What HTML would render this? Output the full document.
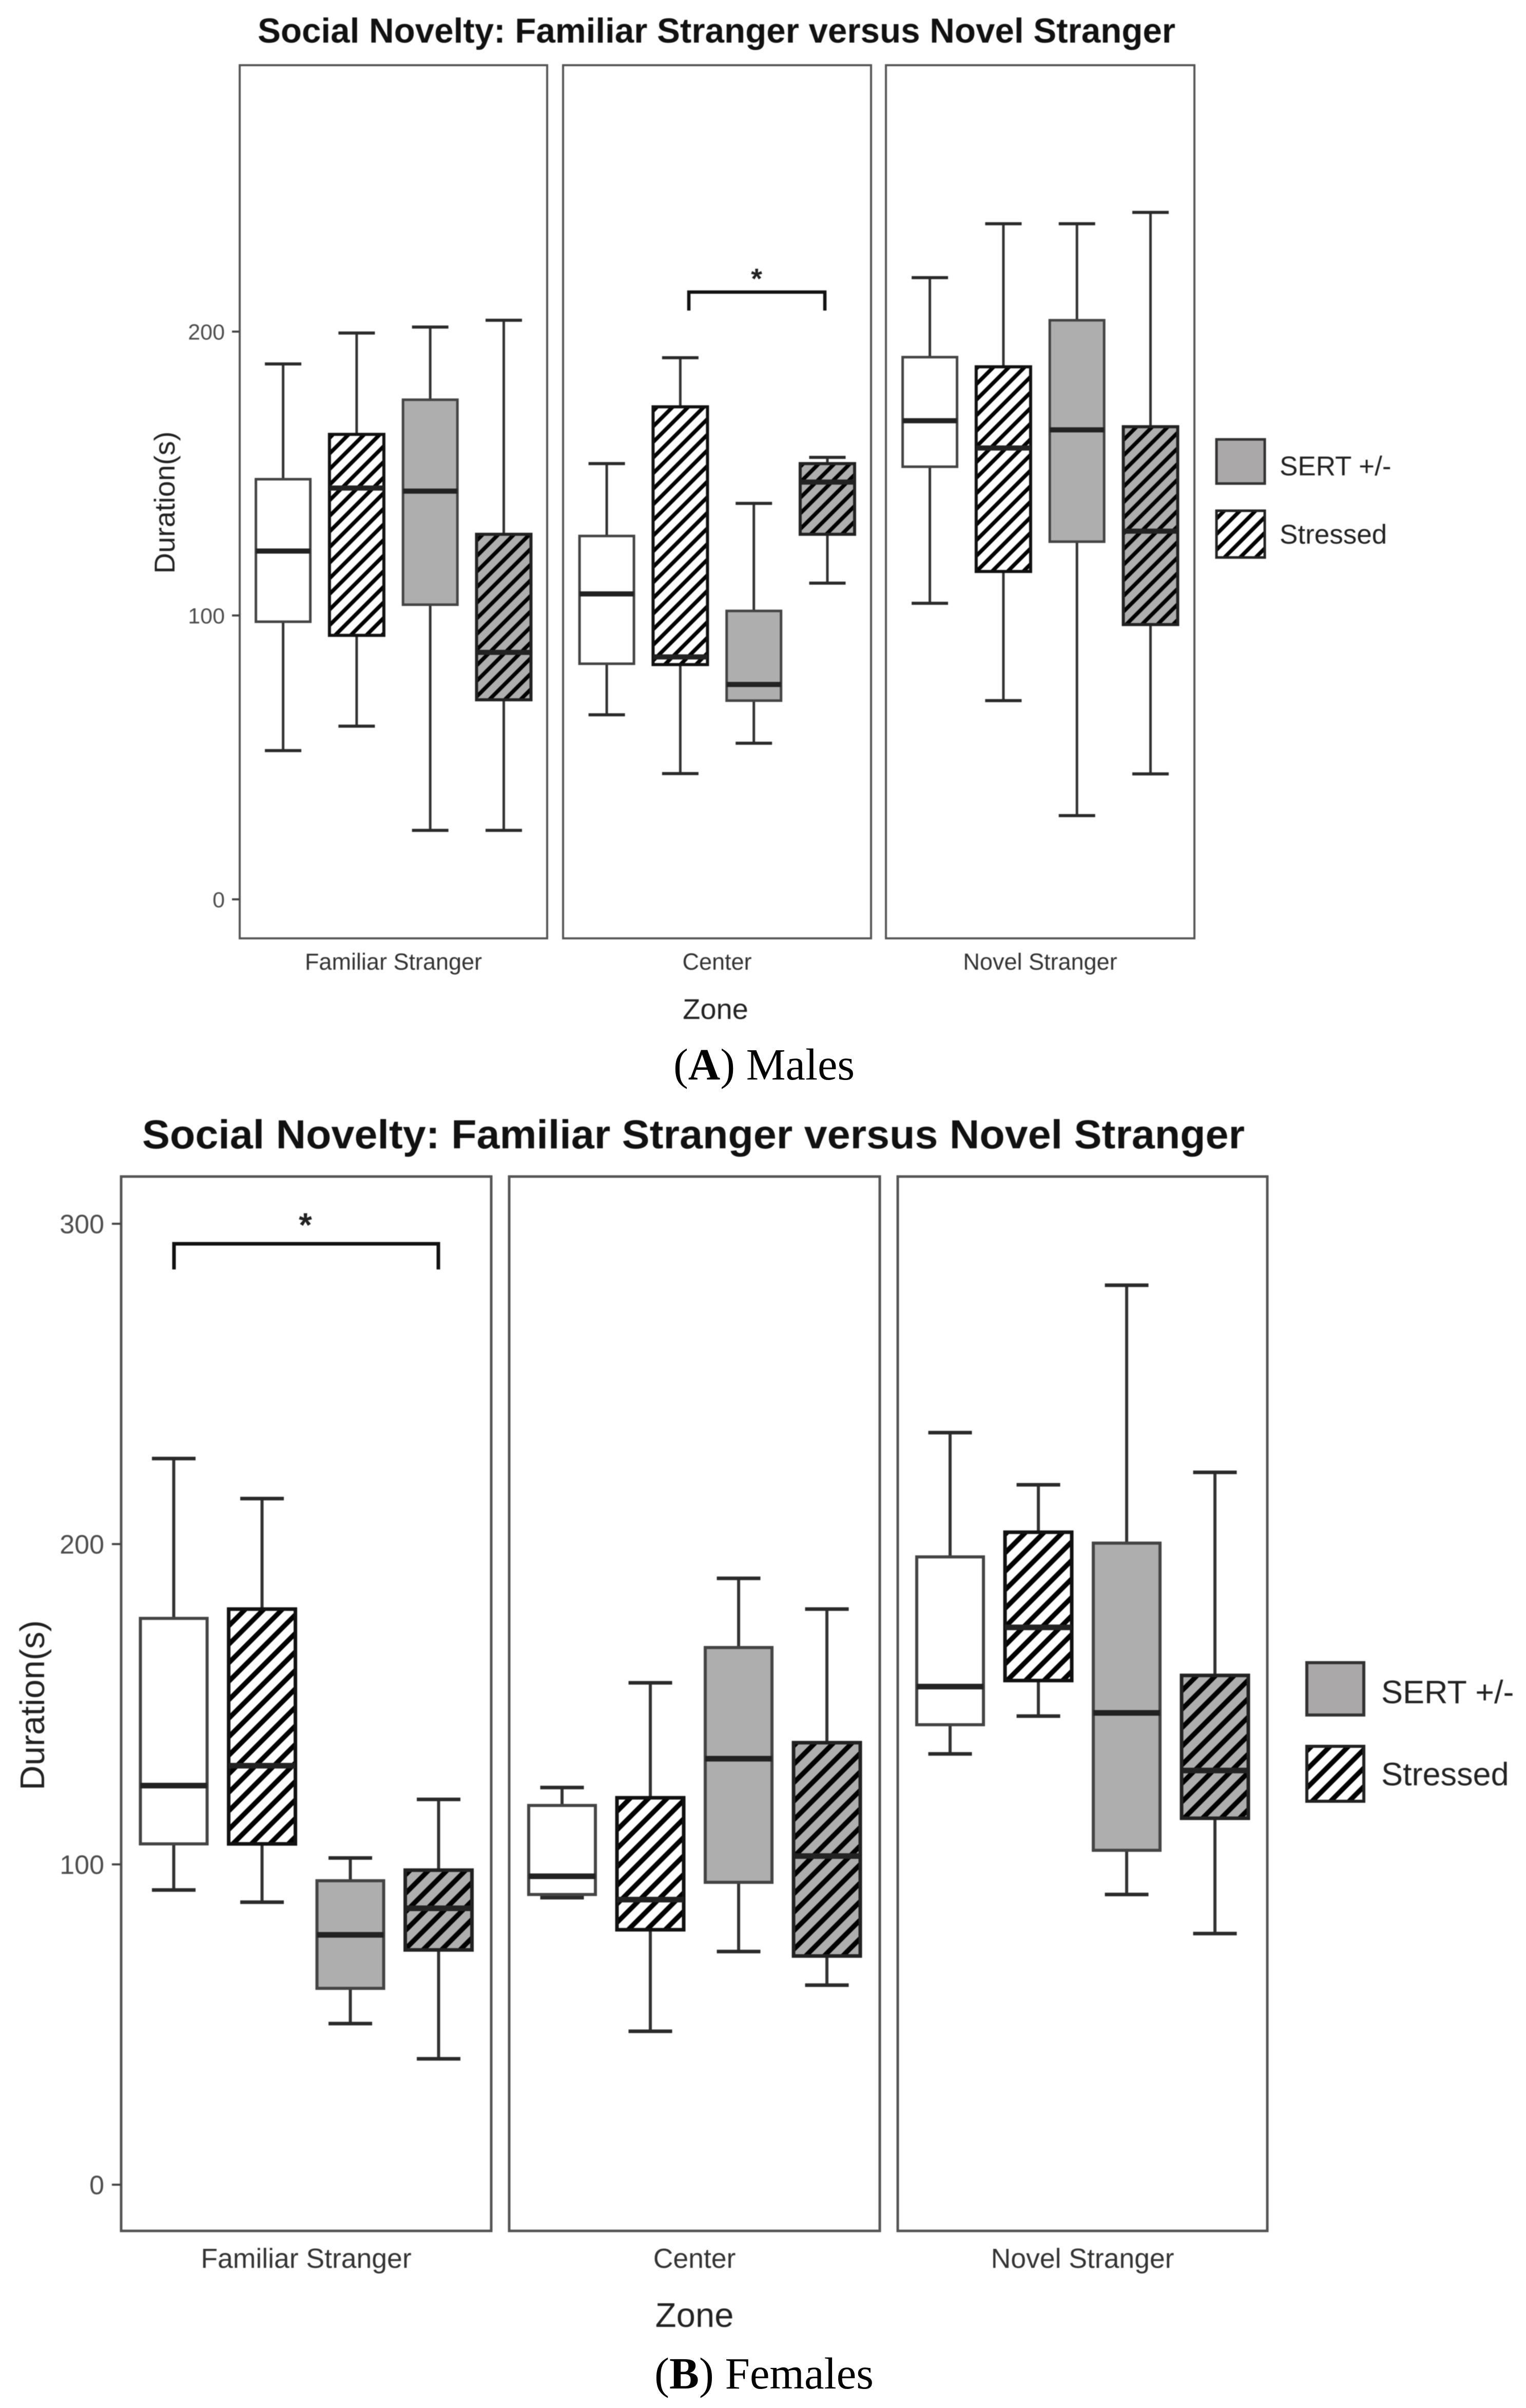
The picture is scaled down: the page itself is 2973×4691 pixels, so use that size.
<!DOCTYPE html>
<html lang="en">
<head>
<meta charset="utf-8">
<title>Social Novelty: Familiar Stranger versus Novel Stranger</title>
<style>
html,body{margin:0;padding:0;background:#fff;}
svg{display:block;}
.chart{filter:blur(0.9px);}
text{font-family:"Liberation Sans",Arial,sans-serif;}
.cap{font-family:"Liberation Serif","Times New Roman",serif;fill:#000;}
</style>
</head>
<body>
<svg id="figure" xmlns="http://www.w3.org/2000/svg" width="2973" height="4691" viewBox="0 0 2973 4691">
  <defs>
    <pattern id="hatch-white-a" patternUnits="userSpaceOnUse" width="21.5" height="21.5" patternTransform="rotate(45)"><rect width="21.5" height="21.5" fill="#fff"/><rect width="7.5" height="21.5" fill="#000"/></pattern>
    <pattern id="hatch-gray-a" patternUnits="userSpaceOnUse" width="21.5" height="21.5" patternTransform="rotate(45)"><rect width="21.5" height="21.5" fill="#aeaeae"/><rect width="7.5" height="21.5" fill="#000"/></pattern>
    <pattern id="hatch-white-b" patternUnits="userSpaceOnUse" width="25.5" height="25.5" patternTransform="rotate(45)"><rect width="25.5" height="25.5" fill="#fff"/><rect width="9.5" height="25.5" fill="#000"/></pattern>
    <pattern id="hatch-gray-b" patternUnits="userSpaceOnUse" width="25.5" height="25.5" patternTransform="rotate(45)"><rect width="25.5" height="25.5" fill="#aeaeae"/><rect width="9.5" height="25.5" fill="#000"/></pattern>
  </defs>

  <g id="chart-a" class="chart">
    <text x="502" y="83" font-size="68" font-weight="bold" fill="#111" textLength="1788" lengthAdjust="spacingAndGlyphs">Social Novelty: Familiar Stranger versus Novel Stranger</text>
    <text transform="translate(340 979) rotate(-90)" text-anchor="middle" font-size="56" fill="#222">Duration(s)</text>
    <text x="1394" y="1985" text-anchor="middle" font-size="56" fill="#222">Zone</text>
    <g>
      <rect x="2370" y="856" width="94" height="86" fill="#aba8a9" stroke="#333" stroke-width="5"/>
      <text x="2493" y="926" font-size="53" fill="#222">SERT +/-</text>
      <rect x="2370" y="995" width="94" height="91" fill="url(#hatch-white-a)" stroke="#222" stroke-width="5"/>
      <text x="2493" y="1059" font-size="53" fill="#222">Stressed</text>
    </g>
  </g>
  <text class="cap" x="1312" y="2103" font-size="87" textLength="353" lengthAdjust="spacingAndGlyphs">(<tspan font-weight="bold">A</tspan>) Males</text>

  <g id="chart-b" class="chart">
    <text x="277" y="2237" font-size="79" font-weight="bold" fill="#111" textLength="2148" lengthAdjust="spacingAndGlyphs">Social Novelty: Familiar Stranger versus Novel Stranger</text>
    <text transform="translate(86 3322) rotate(-90)" text-anchor="middle" font-size="67" fill="#222">Duration(s)</text>
    <text x="1353" y="4533" text-anchor="middle" font-size="67" fill="#222">Zone</text>
    <g>
      <rect x="2546" y="3239" width="111" height="102" fill="#aba8a9" stroke="#333" stroke-width="6"/>
      <text x="2691" y="3318" font-size="63" fill="#222">SERT +/-</text>
      <rect x="2546" y="3402" width="111" height="107" fill="url(#hatch-white-b)" stroke="#222" stroke-width="6"/>
      <text x="2691" y="3478" font-size="63" fill="#222">Stressed</text>
    </g>
  </g>
  <text class="cap" x="1275" y="4653" font-size="87" textLength="427" lengthAdjust="spacingAndGlyphs">(<tspan font-weight="bold">B</tspan>) Females</text>
</svg>

<script>
const panelLabels = ["Familiar Stranger", "Center", "Novel Stranger"];
const seriesNames = ["control", "stressed", "sert", "sert-stressed"];

const malesTicks = [0, 100, 200];
const malesHigh   = [188.6, 199.5, 201.6, 204, 153.5, 190.8, 139.5, 155.7, 219, 238, 238, 242];
const malesQ3     = [148, 163.8, 176, 128.6, 128, 173.5, 101.6, 153.5, 191, 187.6, 204, 166.5];
const malesMedian = [122.7, 144.9, 143.8, 87, 107.6, 85.4, 75.7, 147, 168.6, 159, 165.4, 129.7];
const malesQ1     = [97.8, 93, 103.8, 70.3, 83, 82.7, 70, 128.6, 152.4, 115.5, 126, 96.8];
const malesLow    = [52.4, 61, 24.3, 24.3, 65, 44.3, 55, 111.4, 104.3, 70, 29.5, 44.2];

const femalesTicks = [0, 100, 200, 300];
const femalesHigh   = [226.7, 214.2, 102, 120.3, 124, 156.7, 189.3, 179.7, 234.8, 218.5, 280.8, 222.4];
const femalesQ3     = [176.8, 179.7, 94.9, 98.2, 118.4, 120.8, 167.7, 138, 196, 203.7, 200.3, 159];
const femalesMedian = [124.6, 130.8, 78, 86.3, 96.3, 89, 133, 102.6, 155.5, 174, 147.3, 129.3];
const femalesQ1     = [106.4, 106.4, 61.3, 73.3, 90.6, 79.6, 94.4, 71.4, 143.6, 157.4, 104.4, 114.4];
const femalesLow    = [92, 88.2, 50.3, 39.3, 89.6, 47.9, 72.8, 62.3, 134.5, 146.3, 90.6, 78.4];

const SVGNS = "http://www.w3.org/2000/svg";

function shape(parent, tag, props, txt) {
  const el = document.createElementNS(SVGNS, tag);
  for (const k in props) el.setAttribute(k, props[k]);
  if (txt !== undefined) el.textContent = txt;
  parent.appendChild(el);
  return el;
}

function drawChart(cfg) {
  const root = document.getElementById(cfg.rootId);
  const y = cfg.y;
  const boxCenter = (p, s) => (cfg.panels[p][0] + cfg.panels[p][1]) / 2 + (s - 1.5) * cfg.step;

  cfg.panels.forEach(function (pn, p) {
    const frame = shape(root, "rect", {x: pn[0], y: cfg.top, width: pn[1] - pn[0], height: cfg.bottom - cfg.top, fill: "#fff", stroke: "#555", "stroke-width": cfg.frameWidth});
    
    
    const lab = shape(root, "text", {x: (pn[0] + pn[1]) / 2, y: cfg.xLabelY, "text-anchor": "middle", "font-size": cfg.xLabelSize, fill: "#333"}, panelLabels[p]);
    
    
  });

  cfg.ticks.forEach(function (t) {
    const tick = shape(root, "line", {x1: cfg.panels[0][0] - cfg.tickLen, x2: cfg.panels[0][0], y1: y(t), y2: y(t), stroke: "#444", "stroke-width": 4});
    
    
    const lab = shape(root, "text", {x: cfg.panels[0][0] - cfg.tickLen - cfg.tickGap, y: y(t) + cfg.tickSize * 0.36, "text-anchor": "end", "font-size": cfg.tickSize, fill: "#4d4d4d"}, String(t));
    
    
  });

  cfg.high.forEach(function (hi, i) {
    const p = Math.floor(i / 4);
    const s = i % 4;
    const cx = boxCenter(p, s);
    const g = shape(root, "g", {});
    
    
    const whisker = shape(g, "line", {x1: cx, x2: cx, y1: y(hi), y2: y(cfg.low[i]), stroke: "#333", "stroke-width": cfg.lineWidth});
    
    
    [hi, cfg.low[i]].forEach(function (v) {
      const cap = shape(g, "line", {x1: cx - cfg.capW / 2, x2: cx + cfg.capW / 2, y1: y(v), y2: y(v), stroke: "#2a2a2a", "stroke-width": cfg.lineWidth + 1});
      
      
    });
    const fills = ["#fff", "url(#hatch-white-" + cfg.suffix + ")", "#aeaeae", "url(#hatch-gray-" + cfg.suffix + ")"];
    const strokes = ["#444", "#111", "#444", "#222"];
    const rect = shape(g, "rect", {x: cx - cfg.boxW / 2, y: y(cfg.q3[i]), width: cfg.boxW, height: y(cfg.q1[i]) - y(cfg.q3[i]), fill: fills[s], stroke: strokes[s], "stroke-width": cfg.lineWidth + s % 2});
    
    
    const med = shape(g, "line", {x1: cx - cfg.boxW / 2, x2: cx + cfg.boxW / 2, y1: y(cfg.median[i]), y2: y(cfg.median[i]), stroke: "#222", "stroke-width": cfg.medianWidth});
    
    
  });

  const b = cfg.bracket;
  const br = shape(root, "path", {d: "M" + b.x1 + " " + b.yEnd + "V" + b.yTop + "H" + b.x2 + "V" + b.yEnd, fill: "none", stroke: "#111", "stroke-width": b.w});
  
  
  const star = shape(root, "text", {x: b.starX, y: b.starY, "text-anchor": "middle", "font-size": b.starSize, "font-weight": "bold", fill: "#222"}, "*");
  
  
}

drawChart({
  rootId: "chart-a", suffix: "a",
  y: v => 1752 - 5.53 * v,
  ticks: malesTicks,
  high: malesHigh, q3: malesQ3, median: malesMedian, q1: malesQ1, low: malesLow,
  panels: [[467, 1066], [1097, 1697], [1726, 2327]],
  top: 127, bottom: 1828, step: 143.3, boxW: 106, capW: 71,
  frameWidth: 4, lineWidth: 5, medianWidth: 10, tickLen: 15, tickGap: 14, tickSize: 43,
  xLabelY: 1889, xLabelSize: 45,
  bracket: {x1: 1342, x2: 1607, yTop: 569, yEnd: 605, w: 6.5, starX: 1474, starY: 562, starSize: 56}
});

drawChart({
  rootId: "chart-b", suffix: "b",
  y: v => 4256 - 6.24 * v,
  ticks: femalesTicks,
  high: femalesHigh, q3: femalesQ3, median: femalesMedian, q1: femalesQ1, low: femalesLow,
  panels: [[236, 957], [992, 1714], [1749, 2469]],
  top: 2292, bottom: 4346, step: 172, boxW: 130, capW: 85,
  frameWidth: 5, lineWidth: 6, medianWidth: 11, tickLen: 18, tickGap: 15, tickSize: 52,
  xLabelY: 4418, xLabelSize: 53.5,
  bracket: {x1: 339, x2: 854, yTop: 2423, yEnd: 2473, w: 7, starX: 595, starY: 2409, starSize: 66}
});
</script>
</body>
</html>
